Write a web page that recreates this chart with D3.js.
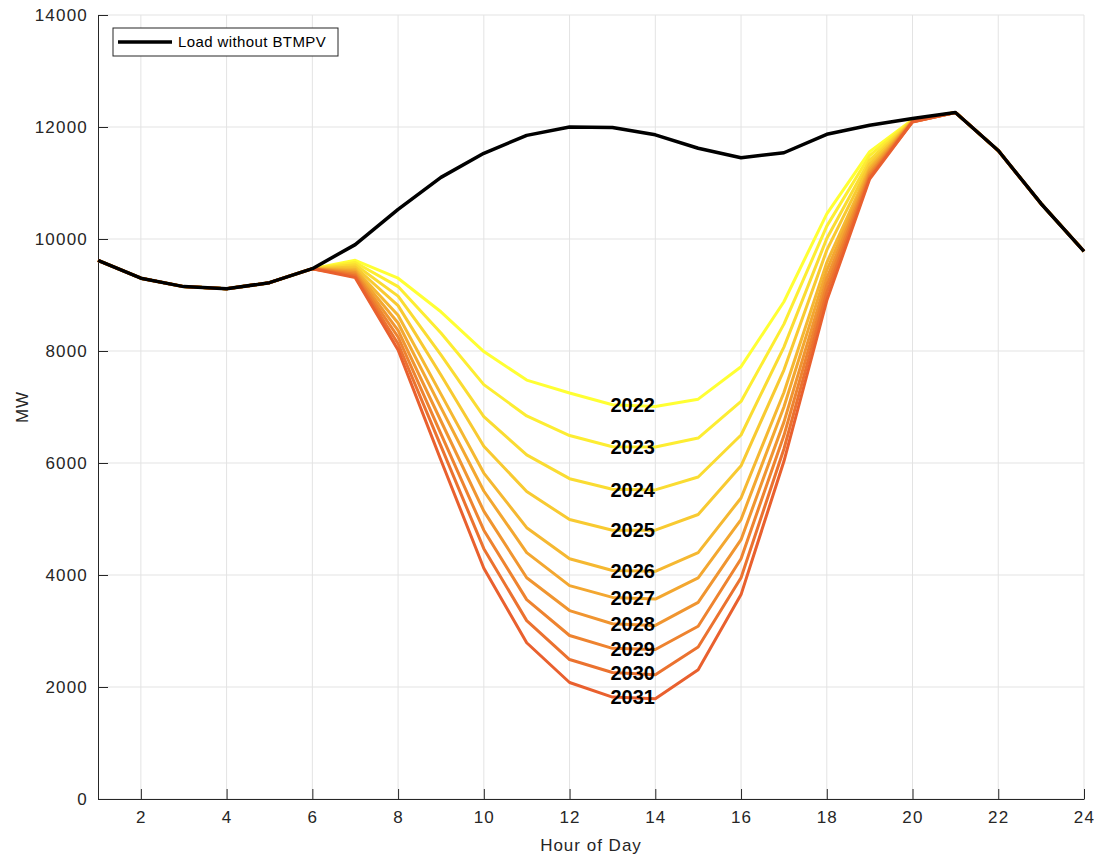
<!DOCTYPE html>
<html>
<head>
<meta charset="utf-8">
<script src="https://cdn.jsdelivr.net/npm/d3@7"></script>
<style>
  body { margin: 0; background: #fff; }
  svg { display: block; }
</style>
</head>
<body>
<svg id="chart"></svg>
<script>
// hour of day and system load (MW) without behind-the-meter PV
var hours = d3.range(1, 25);
var loadNoPV = [9620, 9300, 9150, 9110, 9220, 9470, 9900, 10530, 11100, 11530, 11850, 12000,
                11990, 11860, 11620, 11450, 11540, 11870, 12030, 12150, 12260, 11580, 10630, 9780];

// net load for each forecast year, hours 7..20 (other hours follow loadNoPV)
var years = [2022, 2023, 2024, 2025, 2026, 2027, 2028, 2029, 2030, 2031];
var net2022 = [9620, 9300, 8700, 7990, 7480, 7250, 7040, 7010, 7140, 7720, 8880, 10450, 11560, 12130];
var net2023 = [9580, 9150, 8320, 7400, 6840, 6490, 6290, 6285, 6445, 7100, 8480, 10230, 11490, 12125];
var net2024 = [9540, 8980, 7930, 6830, 6145, 5720, 5530, 5520, 5750, 6500, 8070, 10010, 11410, 12120];
var net2025 = [9500, 8810, 7570, 6300, 5490, 4990, 4800, 4800, 5080, 5950, 7660, 9800, 11340, 12115];
var net2026 = [9460, 8640, 7230, 5820, 4845, 4290, 4080, 4065, 4400, 5375, 7260, 9580, 11270, 12110];
var net2027 = [9430, 8500, 6990, 5500, 4400, 3810, 3600, 3570, 3950, 4990, 7000, 9440, 11230, 12105];
var net2028 = [9400, 8370, 6750, 5140, 3950, 3365, 3130, 3100, 3510, 4630, 6730, 9300, 11180, 12100];
var net2029 = [9370, 8250, 6520, 4800, 3560, 2920, 2690, 2670, 3085, 4290, 6490, 9170, 11140, 12095];
var net2030 = [9340, 8130, 6300, 4470, 3185, 2490, 2260, 2220, 2715, 3950, 6250, 9040, 11100, 12092];
var net2031 = [9310, 8020, 6050, 4120, 2790, 2080, 1820, 1790, 2310, 3650, 6030, 8900, 11070, 12090];
var netByYear = [net2022, net2023, net2024, net2025, net2026, net2027, net2028, net2029, net2030, net2031];

var xTicks = d3.range(2, 25, 2);
var yTicks = d3.range(0, 14001, 2000);
var labelHour = 13;

var width = 1094, height = 856;
var margin = { top: 15, right: 10, bottom: 57, left: 98 };

var svg = d3.select("#chart").attr("width", width).attr("height", height);

var x = d3.scaleLinear().domain([1, 24]).range([margin.left, width - margin.right]);
var y = d3.scaleLinear().domain([0, 14000]).range([height - margin.bottom, margin.top]);

var axisColor = "#262626";
var font = "Liberation Sans, Arial, Helvetica, sans-serif";

// grid
var grid = svg.append("g");
grid.selectAll(".gx").data(xTicks).enter().append("line")
  .attr("x1", d => x(d)).attr("x2", d => x(d))
  .attr("y1", y(0)).attr("y2", y(14000))
  .style("stroke", "#e3e3e3").style("stroke-width", 1);
grid.selectAll(".gy").data(yTicks).enter().append("line")
  .attr("x1", x(1)).attr("x2", x(24))
  .attr("y1", d => y(d)).attr("y2", d => y(d))
  .style("stroke", "#e3e3e3").style("stroke-width", 1);

// axes (ticks pointing inward, matlab style)
var xAxis = svg.append("g")
  .attr("transform", "translate(0," + y(0) + ")")
  .call(d3.axisBottom(x).tickValues(xTicks).tickSizeInner(-10).tickSizeOuter(0).tickPadding(12));
var yAxis = svg.append("g")
  .attr("transform", "translate(" + x(1) + ",0)")
  .call(d3.axisLeft(y).tickValues(yTicks).tickFormat(d3.format("d"))
    .tickSizeInner(-10).tickSizeOuter(0).tickPadding(10));
[xAxis, yAxis].forEach(function(a) {
  a.select(".domain").style("stroke", axisColor);
  a.selectAll(".tick line").style("stroke", axisColor);
  a.selectAll(".tick text")
    .style("fill", axisColor)
    .style("font-family", font)
    .style("font-size", "17px")
    .style("letter-spacing", "1.2px");
});

// net load lines
var color = d3.scaleLinear()
  .domain([0, years.length - 1])
  .range(["#ffff33", "#e9602e"])
  .interpolate(d3.interpolateRgb);

function fullDay(net) {
  return hours.map(function(h, i) {
    if (h >= 7 && h <= 20) return net[h - 7];
    return loadNoPV[i];
  });
}

var line = d3.line()
  .x(function(d, i) { return x(hours[i]); })
  .y(function(d) { return y(d); });

var netLayer = svg.append("g");
netByYear.forEach(function(net, k) {
  netLayer.append("path")
    .datum(fullDay(net))
    .attr("d", line)
    .style("fill", "none")
    .style("stroke", color(k))
    .style("stroke-width", 3)
    .style("stroke-linejoin", "round");
});

// load without BTMPV
svg.append("path")
  .datum(loadNoPV)
  .attr("d", line)
  .style("fill", "none")
  .style("stroke", "#000")
  .style("stroke-width", 3.5)
  .style("stroke-linejoin", "round");

// year labels at hour 13
netByYear.forEach(function(net, k) {
  svg.append("text")
    .text(years[k])
    .attr("x", x(labelHour) - 2)
    .attr("y", y(net[labelHour - 7]))
    .attr("dy", "0.36em")
    .style("font-family", font)
    .style("font-weight", "bold")
    .style("font-size", "20px")
    .style("fill", "#000");
});

// legend
var legend = svg.append("g").attr("transform", "translate(113,28)");
legend.append("rect")
  .attr("width", 225).attr("height", 28)
  .style("fill", "#fff").style("stroke", axisColor).style("stroke-width", 1);
legend.append("line")
  .attr("x1", 5).attr("x2", 59).attr("y1", 14).attr("y2", 14)
  .style("stroke", "#000").style("stroke-width", 3.5);
legend.append("text")
  .text("Load without BTMPV")
  .attr("x", 65).attr("y", 14).attr("dy", "0.36em")
  .style("font-family", font)
  .style("font-size", "15px")
  .style("letter-spacing", "0.4px")
  .style("fill", "#000");

// axis labels
svg.append("text")
  .text("Hour of Day")
  .attr("x", (x(1) + x(24)) / 2).attr("y", 851)
  .attr("text-anchor", "middle")
  .style("font-family", font)
  .style("font-size", "17px")
  .style("letter-spacing", "1px")
  .style("fill", axisColor);
svg.append("text")
  .text("MW")
  .attr("transform", "translate(28," + ((y(0) + y(14000)) / 2) + ") rotate(-90)")
  .attr("text-anchor", "middle")
  .style("font-family", font)
  .style("font-size", "17px")
  .style("letter-spacing", "1px")
  .style("fill", axisColor);
</script>
</body>
</html>
